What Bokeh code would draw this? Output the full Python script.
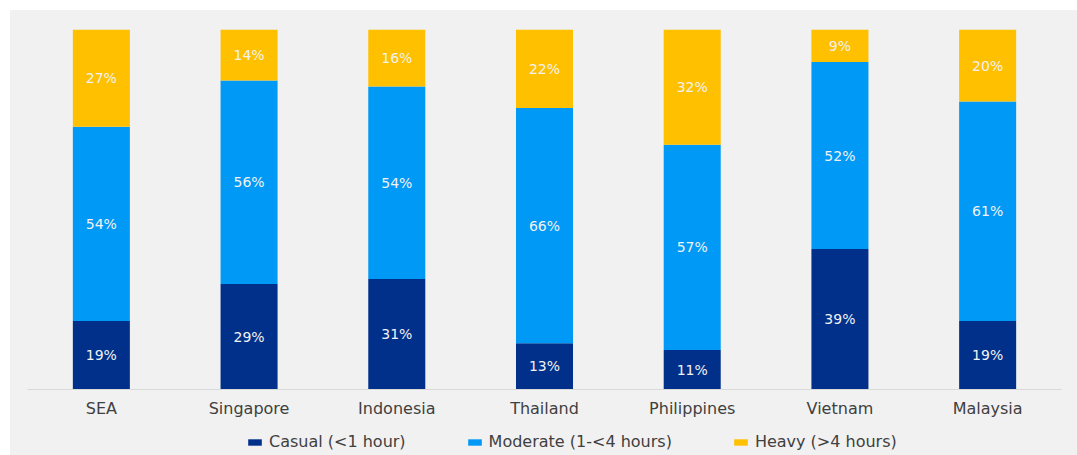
from bokeh.plotting import figure
from bokeh.layouts import column
from bokeh.models import ColumnDataSource, Range1d, FactorRange, Legend, LegendItem
from bokeh.core.properties import value
from bokeh.embed import file_html
from bokeh.resources import INLINE

categories = ["SEA", "Singapore", "Indonesia", "Thailand", "Philippines", "Vietnam", "Malaysia"]
casual = [19, 29, 31, 13, 11, 39, 19]
moderate = [54, 56, 54, 66, 57, 52, 61]
heavy = [27, 14, 16, 22, 32, 9, 20]
series_names = ["Casual (<1 hour)", "Moderate (1-<4 hours)", "Heavy (>4 hours)"]
colors = ["#00308A", "#0099F5", "#FFC000"]

# 100% stacked: normalise each category to its total
totals = [a + b + c for a, b, c in zip(casual, moderate, heavy)]
c_n = [v / t * 100 for v, t in zip(casual, totals)]
m_n = [v / t * 100 for v, t in zip(moderate, totals)]
h_n = [v / t * 100 for v, t in zip(heavy, totals)]

src = ColumnDataSource(dict(cat=categories, casual=c_n, moderate=m_n, heavy=h_n))

FONT = "DejaVu Sans"
BG = "#F1F1F1"

p = figure(width=1067, height=415, x_range=FactorRange(*categories), y_range=Range1d(0, 100),
           output_backend="svg", toolbar_location=None, y_axis_location=None,
           min_border_left=17, min_border_right=16, min_border_top=19, min_border_bottom=36)
p.background_fill_color = BG
p.border_fill_color = BG
p.outline_line_color = None
p.xgrid.visible = False
p.ygrid.visible = False

renderers = p.vbar_stack(["casual", "moderate", "heavy"], x="cat", width=0.386, source=src,
                         color=colors, line_color=None)

# labels centred in each segment
lab_x, lab_y, lab_t = [], [], []
for i, cat in enumerate(categories):
    base = 0.0
    for raw, norm in ((casual[i], c_n[i]), (moderate[i], m_n[i]), (heavy[i], h_n[i])):
        lab_x.append(cat)
        lab_y.append(base + norm / 2)
        lab_t.append(f"{raw}%")
        base += norm
p.text(x=lab_x, y=lab_y, text=lab_t, text_color="#F2F2F2", text_font=value(FONT),
       text_font_size="14px", text_align="center", text_baseline="middle")

ax = p.xaxis[0]
ax.axis_line_color = "#D9D9D9"
ax.axis_line_width = 1
ax.major_tick_line_color = None
ax.minor_tick_line_color = None
ax.major_tick_out = 0
ax.major_tick_in = 0
ax.axis_label_standoff = 0
ax.major_label_text_font = FONT
ax.major_label_text_font_size = "16px"
ax.major_label_text_color = "#404040"
ax.major_label_standoff = 9

# legend strip below the chart (same stacked series, kept out of its visible range)
p2 = figure(width=1067, height=30, x_range=FactorRange(*categories), y_range=Range1d(200, 300),
            output_backend="svg", toolbar_location=None, x_axis_location=None,
            y_axis_location=None, min_border=0)
p2.background_fill_color = BG
p2.border_fill_color = BG
p2.outline_line_color = None
p2.xgrid.visible = False
p2.ygrid.visible = False
swatches = p2.vbar_stack(["casual", "moderate", "heavy"], x="cat", width=0.386, source=src,
                         color=colors, line_color=None)

lg = Legend(items=[LegendItem(label=n, renderers=[r]) for n, r in zip(series_names, swatches)],
            location=(219, 4), orientation="horizontal", background_fill_alpha=0,
            border_line_color=None, label_text_font=FONT, label_text_font_size="16px",
            label_text_color="#404040", glyph_width=17, glyph_height=8, label_standoff=6,
            padding=0, margin=0, spacing=60, label_height=17)
p2.add_layout(lg, "center")

layout = column(p, p2, spacing=0, margin=(10, 0, 0, 10), styles={"background-color": BG})
open("out.html", "w").write(file_html(layout, INLINE))
